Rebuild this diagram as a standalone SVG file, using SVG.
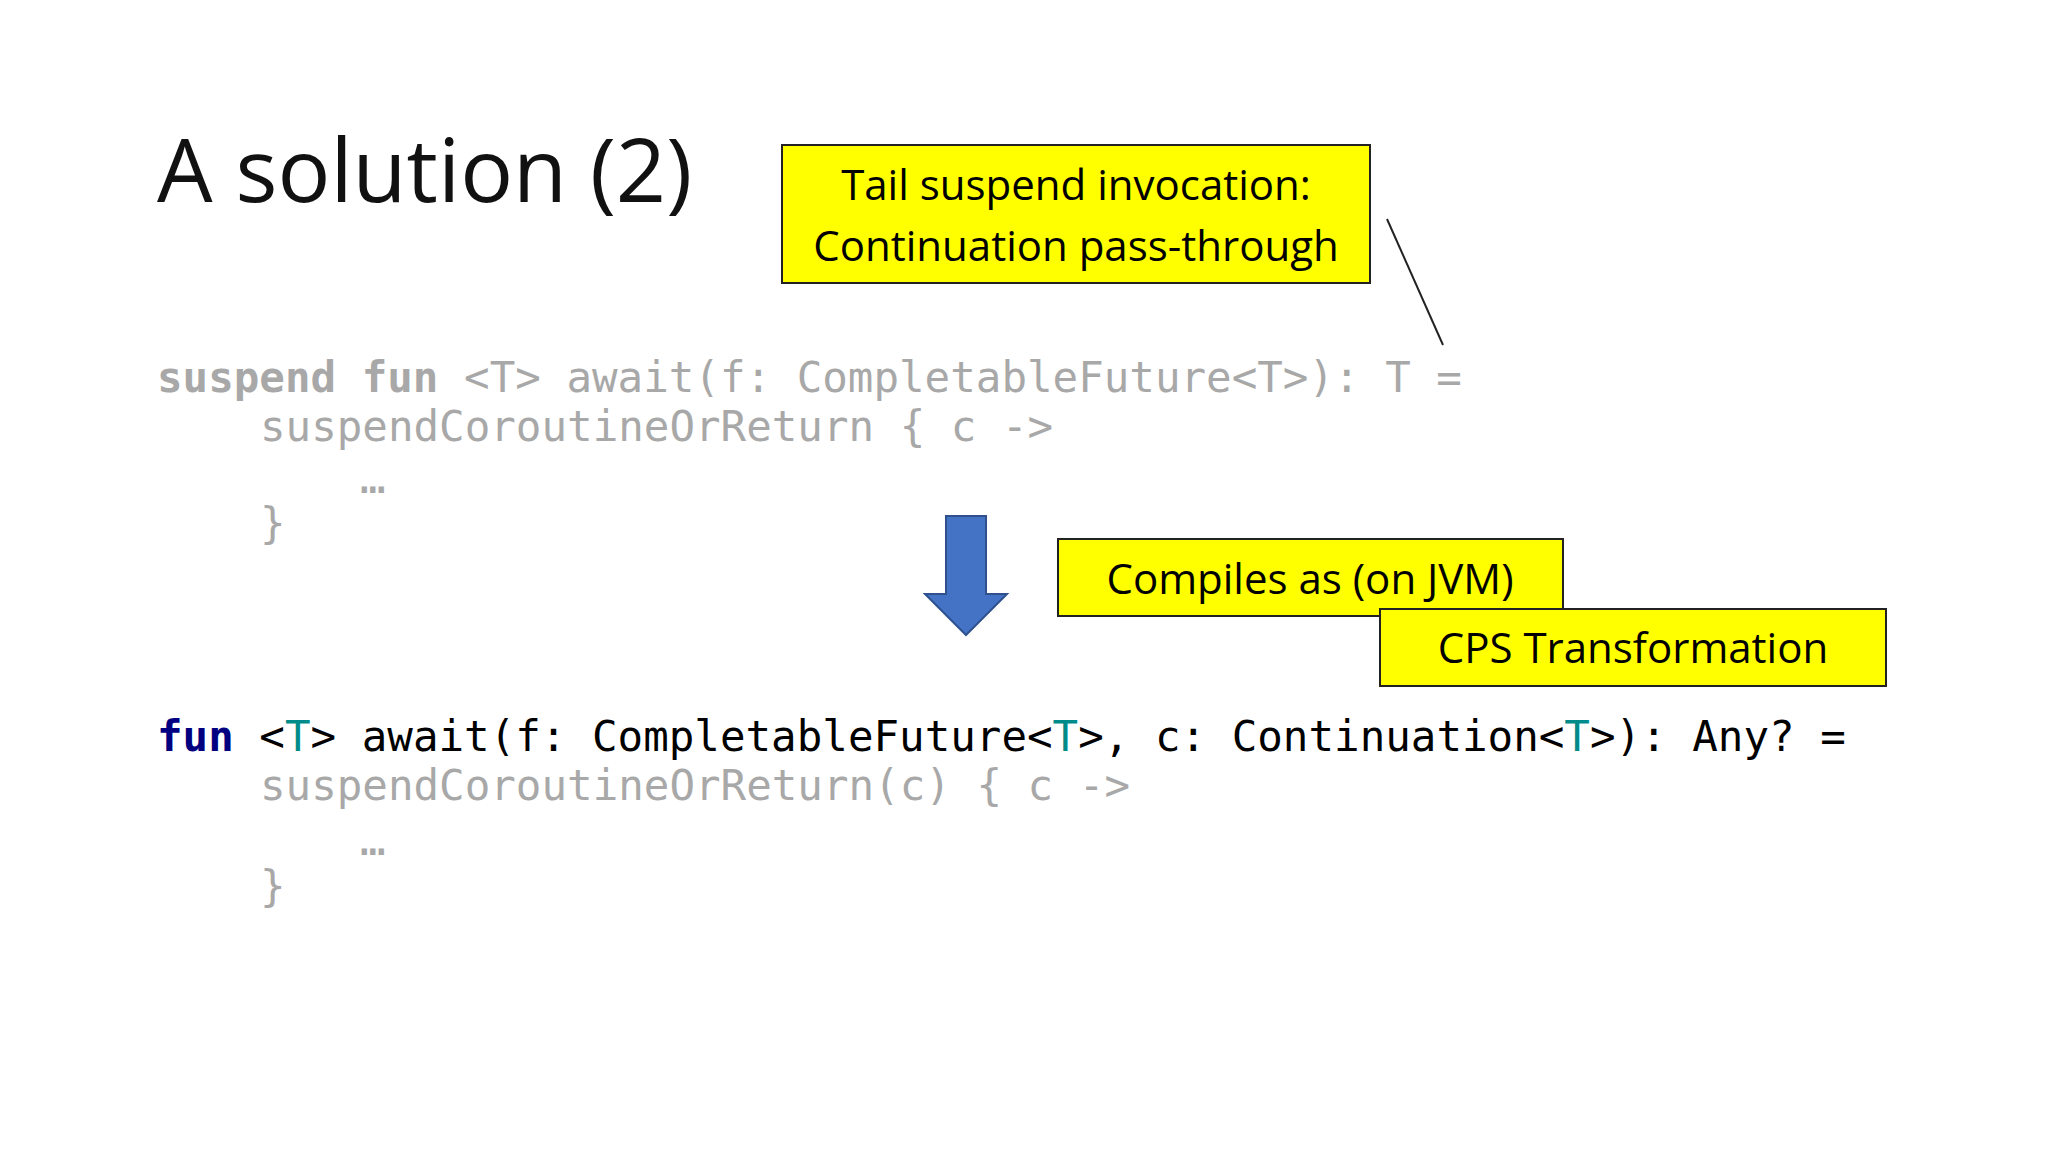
<svg xmlns="http://www.w3.org/2000/svg" width="2048" height="1152" viewBox="0 0 2048 1152">
<style>
.code{font-family:"DejaVu Sans Mono","Liberation Mono",monospace;font-size:42.5px;white-space:pre}
.g{fill:#a8a8a8}
.b{font-weight:bold}
.k{fill:#000080;font-weight:bold}
.t{fill:#008b8b}
.note{font-family:"Open Sans","Noto Sans",sans-serif;font-size:42px;fill:#000;text-anchor:middle}
.box{fill:#ffff00;stroke:#222;stroke-width:2}
</style>
<rect width="2048" height="1152" fill="#fff"/>
<text x="157" y="202" font-family="Open Sans, Noto Sans, sans-serif" font-size="88" fill="#111">A solution (2)</text>
<g id="connectors">
<line x1="1387" y1="219" x2="1443" y2="345" stroke="#222" stroke-width="2"/>
<polygon points="946,516 986,516 986,594 1007,594 966,635 925,594 946,594" fill="#4472c4" stroke="#2f528f" stroke-width="2"/>
</g>
<g id="code1" class="code g">
<text x="157" y="392"><tspan class="b">suspend fun</tspan> &lt;T&gt; await(f: CompletableFuture&lt;T&gt;): T =</text>
<text x="260" y="441">suspendCoroutineOrReturn { c -&gt;</text>
<text x="360" y="493">…</text>
<text x="260" y="538">}</text>
</g>
<g id="code2" class="code">
<text x="157" y="751"><tspan class="k">fun</tspan> &lt;<tspan class="t">T</tspan>&gt; await(f: CompletableFuture&lt;<tspan class="t">T</tspan>&gt;, c: Continuation&lt;<tspan class="t">T</tspan>&gt;): Any? =</text>
<text x="260" y="800" class="g">suspendCoroutineOrReturn(c) { c -&gt;</text>
<text x="360" y="855" class="g">…</text>
<text x="260" y="901" class="g">}</text>
</g>
<g id="note1">
<rect class="box" x="782" y="145" width="588" height="138"/>
<text class="note" x="1076" y="200">Tail suspend invocation:</text>
<text class="note" x="1076" y="261">Continuation pass-through</text>
</g>
<g id="note2">
<rect class="box" x="1058" y="539" width="505" height="77"/>
<text class="note" x="1310" y="594">Compiles as (on JVM)</text>
</g>
<g id="note3">
<rect class="box" x="1380" y="609" width="506" height="77"/>
<text class="note" x="1633" y="663">CPS Transformation</text>
</g>
</svg>
